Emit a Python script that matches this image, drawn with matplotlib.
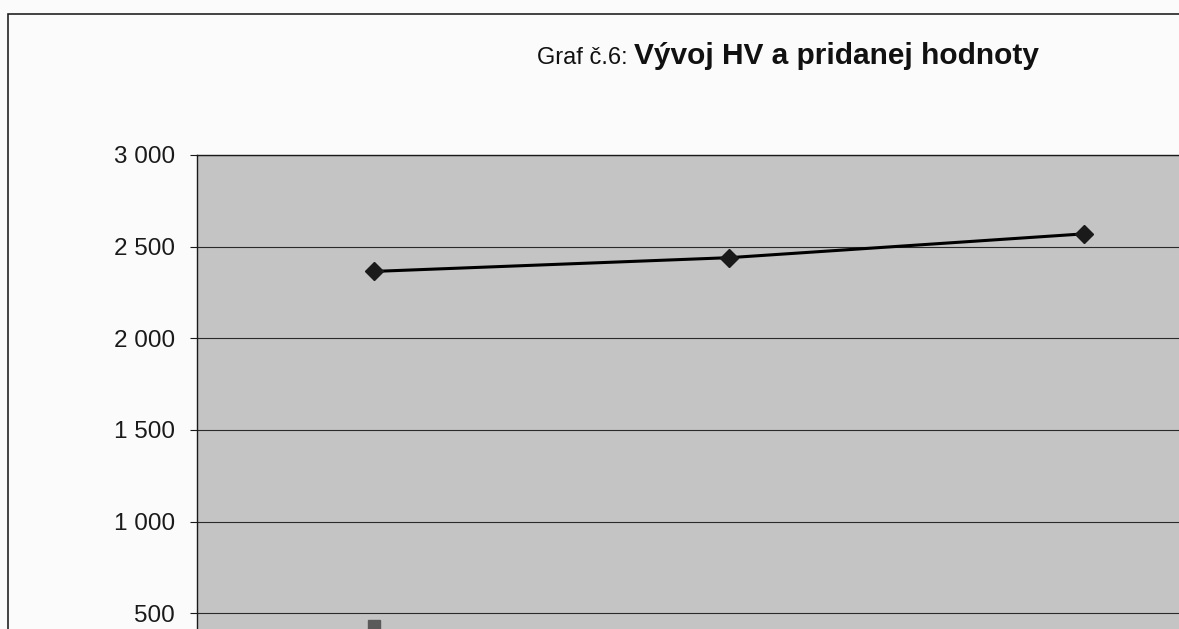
import numpy as np
import matplotlib
matplotlib.use('Agg')
import matplotlib.pyplot as plt
from matplotlib.patches import Rectangle
from matplotlib.ticker import FuncFormatter

years = ['1', '2', '3']
hv_line = [2365, 2440, 2570]          # upper series, diamonds
second = [430, np.nan, np.nan]        # only the first square is visible at the bottom edge
yticks = [500, 1000, 1500, 2000, 2500, 3000]

plt.rcParams['font.family'] = ['Liberation Sans', 'DejaVu Sans']

fig = plt.figure(figsize=(11.79, 6.29), dpi=100)
fig.patch.set_facecolor('#fbfbfb')

# outer frame of the chart object (partly cut by the scan)
fig.patches.append(Rectangle((8 / 1179, -0.2), 1.2, 1.2 - 14 / 629,
                             transform=fig.transFigure, fill=False,
                             edgecolor='#222222', lw=1.2))

ax = fig.add_axes([197 / 1179, -0.1208, 0.9033, 0.8744])
ax.set_facecolor('#c4c4c4')

x = np.arange(len(years))
ax.plot(x, hv_line, color='black', lw=2.2, marker='D', markersize=9,
        markerfacecolor='#1a1a1a', markeredgecolor='#1a1a1a', zorder=3)
ax.plot(x, second, color='#555555', lw=2, marker='s', markersize=9,
        markerfacecolor='#5a5a5a', markeredgecolor='#5a5a5a', zorder=3)

ax.set_xlim(-0.5, len(years) - 0.5)
ax.set_ylim(0, 3000)
ax.set_yticks(yticks)
ax.yaxis.set_major_formatter(FuncFormatter(lambda v, p: f'{int(v):,}'.replace(',', ' ')))
ax.grid(axis='y', color='#2a2a2a', lw=0.8)
ax.set_axisbelow(True)
ax.tick_params(axis='y', direction='out', length=5, width=0.8, labelsize=17.5, pad=11,
               colors='#1a1a1a')
ax.set_xticks(x)
ax.tick_params(axis='x', labelbottom=False, length=0)
for s in ['left', 'top']:
    ax.spines[s].set_color('#1a1a1a')
    ax.spines[s].set_linewidth(1.0)

# title in two parts: regular prefix + bold text
base_y = 1 - 64 / 629
t1 = fig.text(537 / 1179, base_y, 'Graf č.6:', fontsize=17, color='#111111',
              va='baseline')
fig.canvas.draw()
bb = t1.get_window_extent()
fig.text((bb.x1 + 6) / 1179, base_y, 'Vývoj HV a pridanej hodnoty', fontsize=21.5,
         fontweight='bold', color='#111111', va='baseline')

fig.savefig('out.png', dpi=100, facecolor=fig.get_facecolor())
